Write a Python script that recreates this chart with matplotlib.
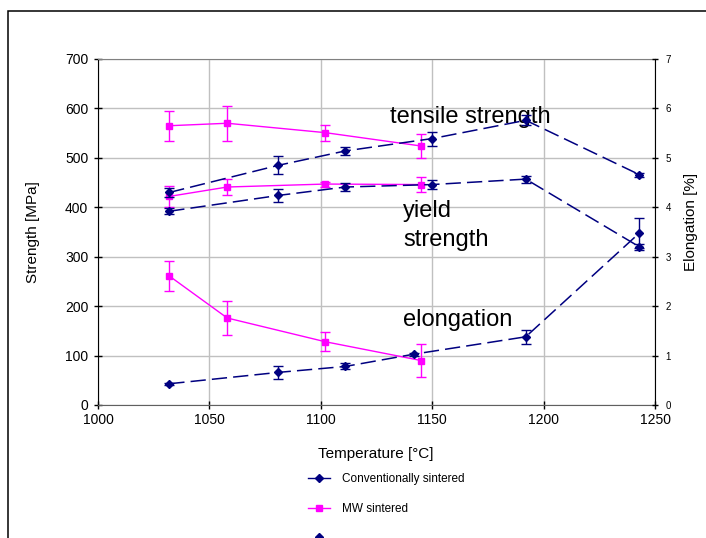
import matplotlib
matplotlib.use("Agg")
import matplotlib.pyplot as plt
from matplotlib.lines import Line2D
from matplotlib.patches import Rectangle

plt.rcParams["font.family"] = ["Liberation Sans", "DejaVu Sans"]

NAVY = "#000080"
MAGENTA = "#FF00FF"

# conventionally sintered
conv_t_temp = [1032, 1081, 1111, 1150, 1192, 1243]
conv_tensile = [430, 485, 514, 539, 576, 466]
conv_tensile_err = [10, 18, 8, 14, 10, 4]
conv_yield = [392, 424, 441, 446, 457, 320]
conv_yield_err = [6, 14, 9, 10, 7, 6]
conv_e_temp = [1032, 1081, 1111, 1142, 1192, 1243]
conv_elong = [0.43, 0.66, 0.78, 1.03, 1.38, 3.48]
conv_elong_err = [0.02, 0.13, 0.06, 0.03, 0.14, 0.31]

# MW sintered
mw_temp = [1032, 1058, 1102, 1145]
mw_tensile = [565, 570, 551, 524]
mw_tensile_err = [30, 35, 16, 25]
mw_yield = [422, 441, 447, 446]
mw_yield_err = [22, 17, 5, 15]
mw_elong = [2.61, 1.76, 1.28, 0.90]
mw_elong_err = [0.30, 0.34, 0.19, 0.33]

W, H = 706, 538
fig = plt.figure(figsize=(W / 100, H / 100), dpi=100)
ax = fig.add_axes([98 / W, 1 - 405 / H, 557 / W, 346 / H])
ax2 = ax.twinx()

dash = dict(ls=(0, (10, 4)), lw=1.1)
eb = dict(capsize=3.6, elinewidth=1.0, capthick=1.0)

ax.errorbar(conv_t_temp, conv_tensile, yerr=conv_tensile_err, color=NAVY,
            marker="D", ms=4.5, **dash, **eb, zorder=4)
ax.errorbar(conv_t_temp, conv_yield, yerr=conv_yield_err, color=NAVY,
            marker="D", ms=4.5, **dash, **eb, zorder=4)
ax.errorbar(mw_temp, mw_tensile, yerr=mw_tensile_err, color=MAGENTA,
            marker="s", ms=4.3, lw=1.0, **eb, zorder=3)
ax.errorbar(mw_temp, mw_yield, yerr=mw_yield_err, color=MAGENTA,
            marker="s", ms=4.3, lw=1.0, **eb, zorder=3)

ax2.errorbar(mw_temp, mw_elong, yerr=mw_elong_err, color=MAGENTA,
             marker="s", ms=4.3, lw=1.0, **eb, zorder=3)
ax2.errorbar(conv_e_temp, conv_elong, yerr=conv_elong_err, color=NAVY,
             marker="D", ms=4.5, **dash, **eb, zorder=4)

ax.set_xlim(1000, 1250)
ax.set_ylim(0, 700)
ax2.set_ylim(0, 7)
ax.set_xticks(range(1000, 1251, 50))
ax.set_yticks(range(0, 701, 100))
ax2.set_yticks(range(0, 8))

ax.grid(True, color="#c0c0c0", lw=1.0)
ax.set_axisbelow(True)

ax.spines["right"].set_visible(False)
ax.spines["top"].set_color("#808080")
ax.spines["bottom"].set_color("#606060")
ax.spines["left"].set_color("black")
for s in ["left", "top", "bottom"]:
    ax2.spines[s].set_visible(False)
ax2.spines["right"].set_color("black")

ax.tick_params(axis="both", direction="inout", length=6, width=1,
               labelsize=10, pad=4)
ax.tick_params(axis="x", pad=3)
ax2.tick_params(axis="y", direction="inout", length=5, width=1,
                labelsize=7, pad=5)

ax.set_xlabel("Temperature [°C]", fontsize=11)
ax.xaxis.set_label_coords(0.499, -0.12)
ax.set_ylabel("Strength [MPa]", fontsize=11)
ax.yaxis.set_label_coords(-0.104, 0.50)
ax2.set_ylabel("Elongation [%]", fontsize=11)
ax2.yaxis.set_label_coords(1.052, 0.53)

ax.text(1131, 570, "tensile strength", fontsize=17, va="baseline")
ax.text(1137, 380, "yield", fontsize=17, va="baseline")
ax.text(1137, 322, "strength", fontsize=17, va="baseline")
ax.text(1137, 160, "elongation", fontsize=17, va="baseline")

handles = [
    Line2D([], [], color=NAVY, marker="D", ms=4.5, lw=1.0),
    Line2D([], [], color=MAGENTA, marker="s", ms=4.3, lw=1.0),
    Line2D([], [], color=NAVY, marker="D", ms=4.5, lw=0),
]
labels = ["Conventionally sintered", "MW sintered", " "]
fig.legend(handles, labels, loc="upper left",
           bbox_to_anchor=(308 / W, 1 - 473 / H), frameon=False,
           borderaxespad=0, borderpad=0, fontsize=8.5, handlelength=1.9,
           handletextpad=1.0, labelspacing=1.5)

fig.patches.append(Rectangle((8 / W, -0.1), 1.2, 1.1 - 11 / H,
                             transform=fig.transFigure, fill=False,
                             ec="black", lw=1.1, clip_on=False))

fig.savefig("out.png", dpi=100)
